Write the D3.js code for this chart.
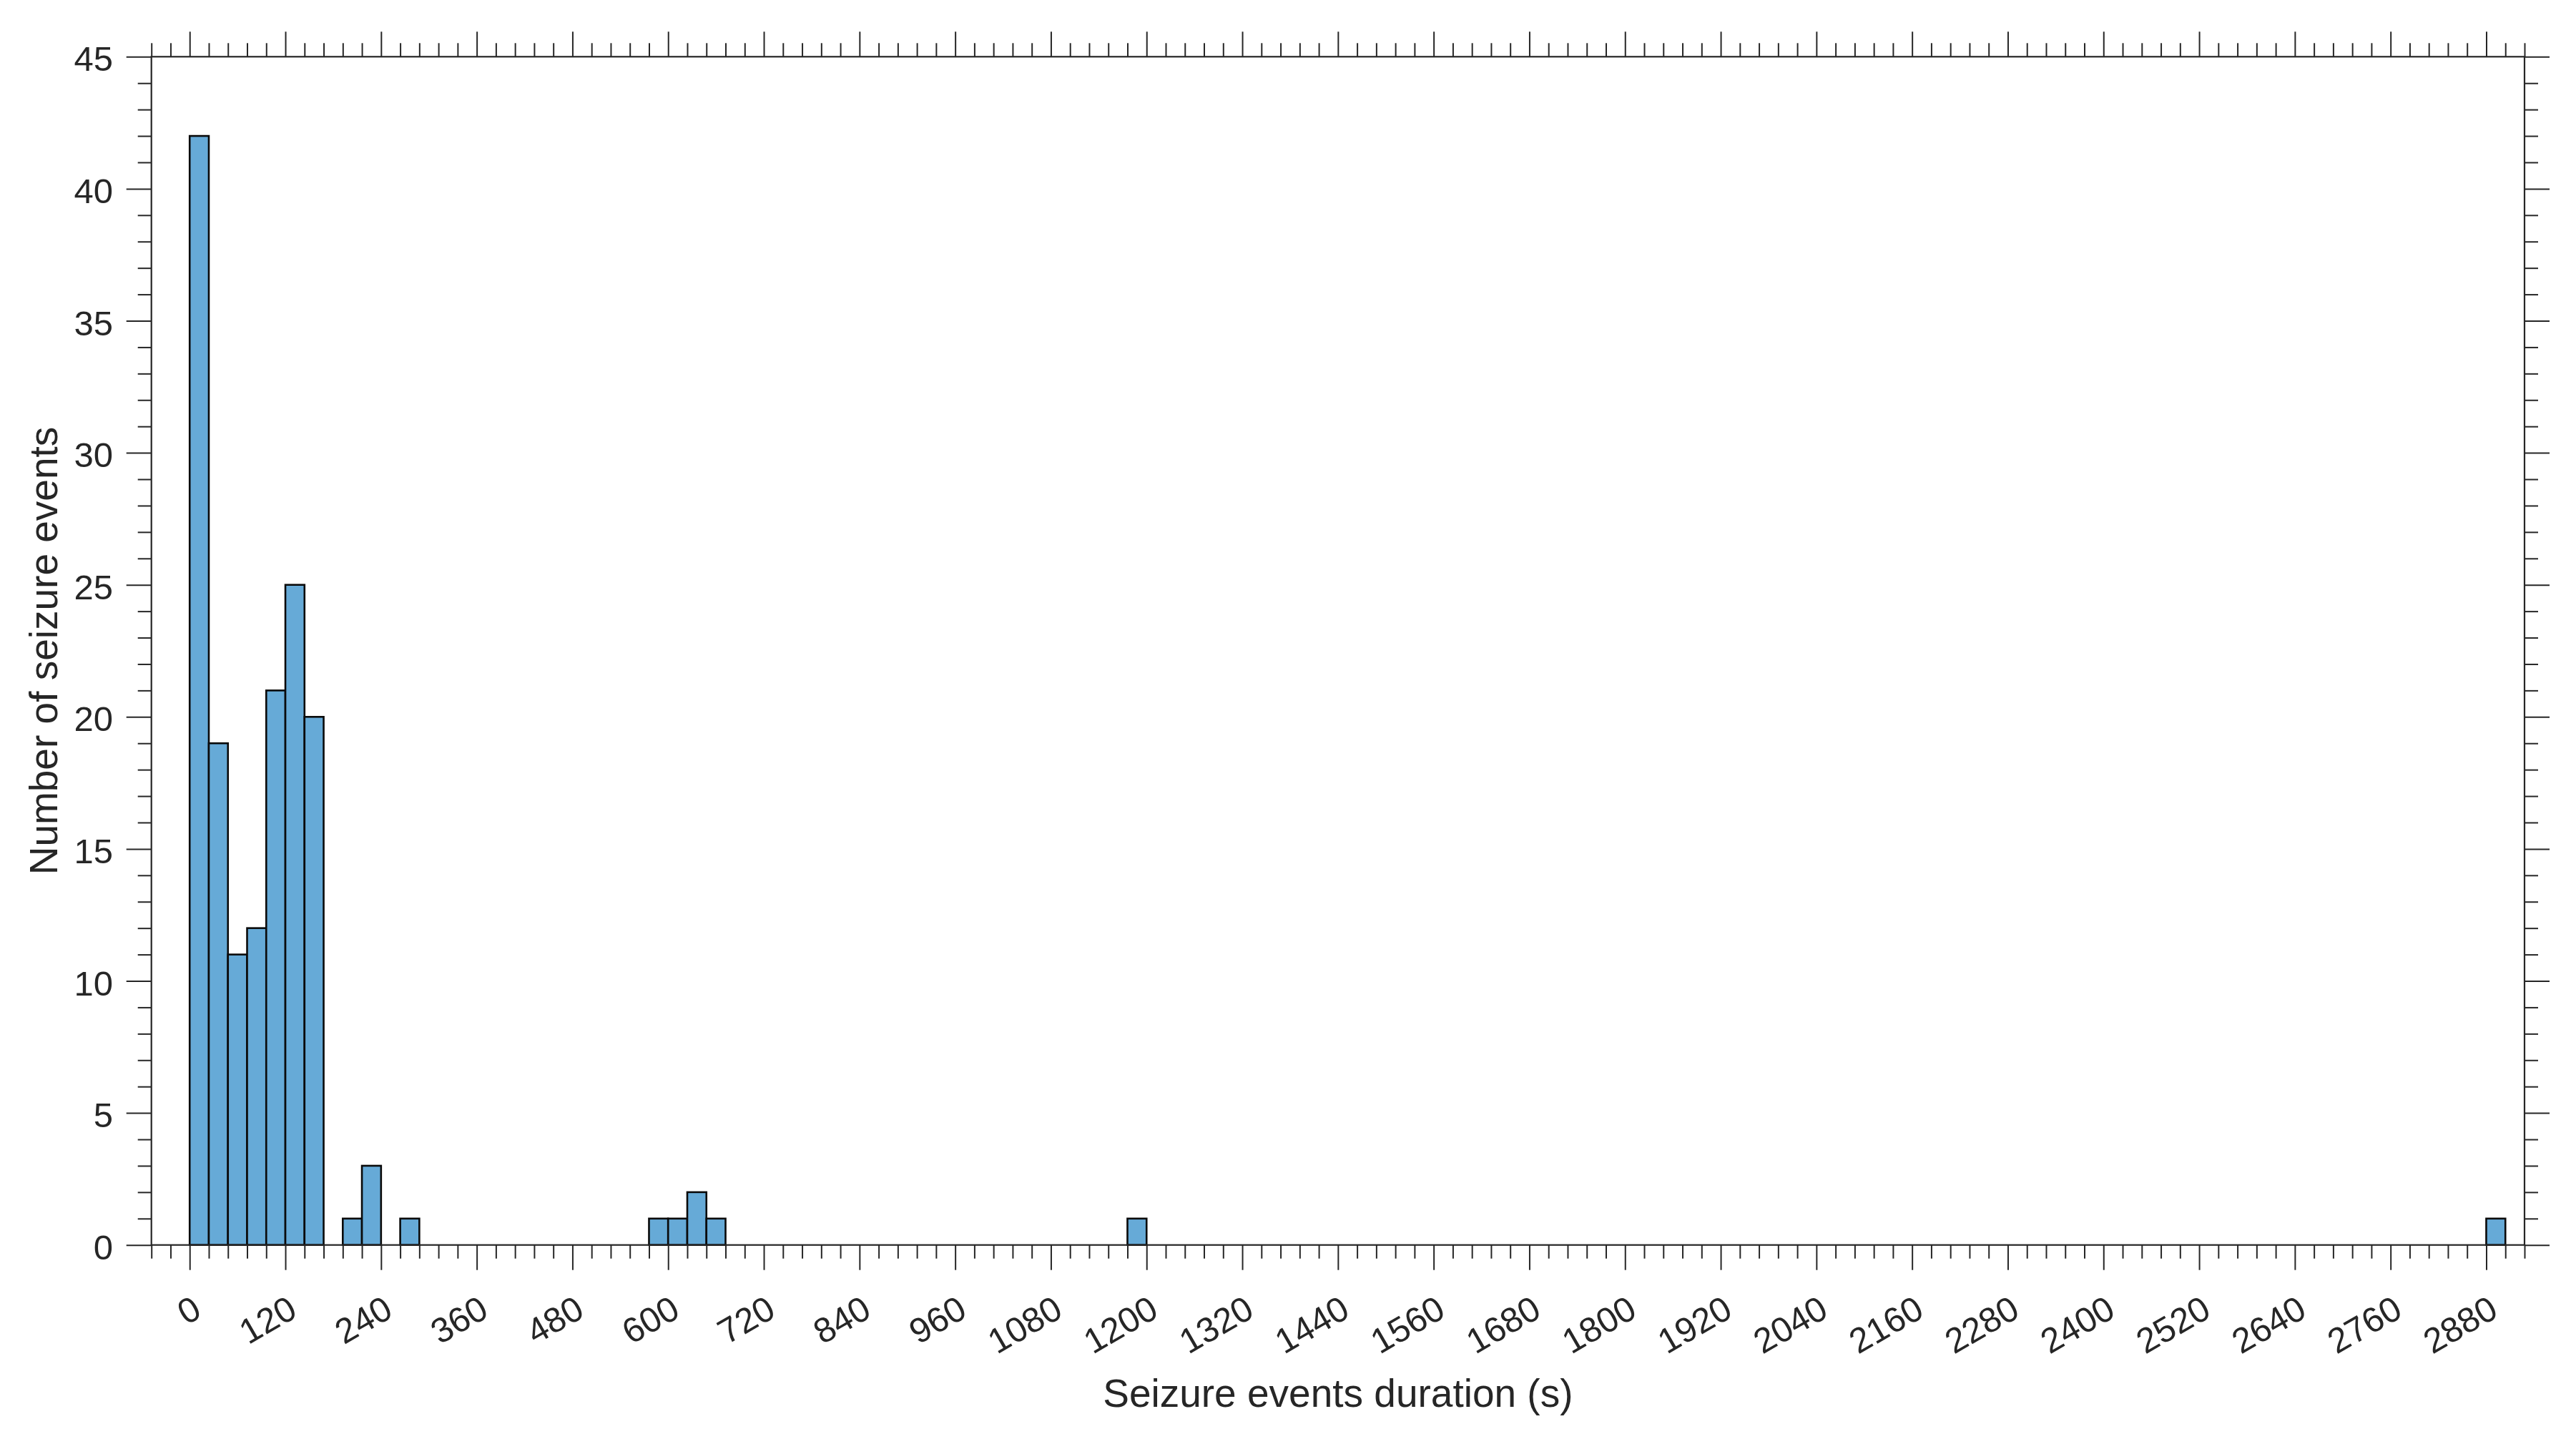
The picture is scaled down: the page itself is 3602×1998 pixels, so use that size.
<!DOCTYPE html>
<html>
<head>
<meta charset="utf-8">
<script src="https://cdn.jsdelivr.net/npm/d3@7"></script>
<style>
  html, body { margin: 0; padding: 0; background: #ffffff; }
  svg { display: block; }
  text { font-family: "Liberation Sans", Arial, Helvetica, sans-serif; fill: #262626; }
</style>
</head>
<body>
<svg id="chart" width="3602" height="1998"></svg>
<script>
// ---- data (histogram of seizure durations, 24 s bins) ----
const binWidth = 24;
const binStarts = [0, 24, 48, 72, 96, 120, 144, 192, 216, 264, 576, 600, 624, 648, 1176, 2880];
const counts    = [42, 19, 11, 12, 21, 25, 20, 1, 3, 1, 1, 1, 2, 1, 1, 1];

const xTickLabels = [0, 120, 240, 360, 480, 600, 720, 840, 960, 1080, 1200, 1320, 1440, 1560,
                     1680, 1800, 1920, 2040, 2160, 2280, 2400, 2520, 2640, 2760, 2880];
const yTickLabels = [0, 5, 10, 15, 20, 25, 30, 35, 40, 45];
const xDomain = [-48, 2928];
const yDomain = [0, 45];
const xMinorStep = 24;
const yMinorStep = 1;

const xTitle = "Seizure events duration (s)";
const yTitle = "Number of seizure events";

// ---- layout ----
const padL = 211.7, padR = 3530, padT = 79.3, padB = 1740.7;
const axisColor = "#262626";
const majorLen = 35, minorLen = 19;
const tickFont = "49px";

const svg = d3.select("#chart");
const x = d3.scaleLinear().domain(xDomain).range([padL, padR]);
const y = d3.scaleLinear().domain(yDomain).range([padB, padT]);

const xMinor = d3.range(xDomain[0], xDomain[1] + 0.001, xMinorStep).filter(v => !xTickLabels.includes(v));
const yMinor = d3.range(yDomain[0], yDomain[1] + 0.001, yMinorStep).filter(v => !yTickLabels.includes(v));

// bars
const bars = binStarts.map((s, i) => ({ start: s, end: s + binWidth, count: counts[i] }));
svg.append("g").selectAll("rect").data(bars).join("rect")
  .attr("x", d => x(d.start))
  .attr("y", d => y(d.count))
  .attr("width", d => x(d.end) - x(d.start))
  .attr("height", d => y(0) - y(d.count))
  .attr("fill", "rgb(102,170,215)")
  .attr("stroke", "#0a0a0a")
  .attr("stroke-width", 2.6);

function styleAxis(g) {
  g.select(".domain").remove();
  g.selectAll(".tick line").attr("stroke", axisColor).attr("stroke-width", 2);
}

// bottom axis
svg.append("g").attr("transform", `translate(0,${padB})`)
  .call(d3.axisBottom(x).tickValues(xMinor).tickSize(minorLen).tickFormat(""))
  .call(styleAxis);
const bx = svg.append("g").attr("transform", `translate(0,${padB})`)
  .call(d3.axisBottom(x).tickValues(xTickLabels).tickSize(majorLen).tickFormat(d3.format("d")))
  .call(styleAxis);
bx.selectAll(".tick text")
  .attr("x", 0).attr("y", 0).attr("dy", "0.35em")
  .attr("text-anchor", "end")
  .attr("transform", "translate(10,84) rotate(-30)")
  .style("font-size", tickFont)
  .style("font-family", "'Liberation Sans', Arial, sans-serif")
  .attr("fill", axisColor);

// top axis
svg.append("g").attr("transform", `translate(0,${padT})`)
  .call(d3.axisTop(x).tickValues(xMinor).tickSize(minorLen).tickFormat(""))
  .call(styleAxis);
svg.append("g").attr("transform", `translate(0,${padT})`)
  .call(d3.axisTop(x).tickValues(xTickLabels).tickSize(majorLen).tickFormat(""))
  .call(styleAxis);

// left axis
svg.append("g").attr("transform", `translate(${padL},0)`)
  .call(d3.axisLeft(y).tickValues(yMinor).tickSize(minorLen).tickFormat(""))
  .call(styleAxis);
const ly = svg.append("g").attr("transform", `translate(${padL},0)`)
  .call(d3.axisLeft(y).tickValues(yTickLabels).tickSize(majorLen).tickFormat(d3.format("d")))
  .call(styleAxis);
ly.selectAll(".tick text")
  .attr("x", -53.7).attr("dy", "0.40em")
  .attr("text-anchor", "end")
  .style("font-size", tickFont)
  .style("font-family", "'Liberation Sans', Arial, sans-serif")
  .attr("fill", axisColor);

// right axis
svg.append("g").attr("transform", `translate(${padR},0)`)
  .call(d3.axisRight(y).tickValues(yMinor).tickSize(minorLen).tickFormat(""))
  .call(styleAxis);
svg.append("g").attr("transform", `translate(${padR},0)`)
  .call(d3.axisRight(y).tickValues(yTickLabels).tickSize(majorLen).tickFormat(""))
  .call(styleAxis);

// box
svg.append("rect")
  .attr("x", padL).attr("y", padT)
  .attr("width", padR - padL).attr("height", padB - padT)
  .attr("fill", "none").attr("stroke", axisColor).attr("stroke-width", 2.2);

// titles
svg.append("text")
  .attr("x", (padL + padR) / 2).attr("y", 1967)
  .attr("text-anchor", "middle")
  .style("font-size", "55px")
  .text(xTitle);

svg.append("text")
  .attr("transform", `translate(80,${(padT + padB) / 2}) rotate(-90)`)
  .attr("text-anchor", "middle")
  .style("font-size", "55px")
  .text(yTitle);
</script>
</body>
</html>
